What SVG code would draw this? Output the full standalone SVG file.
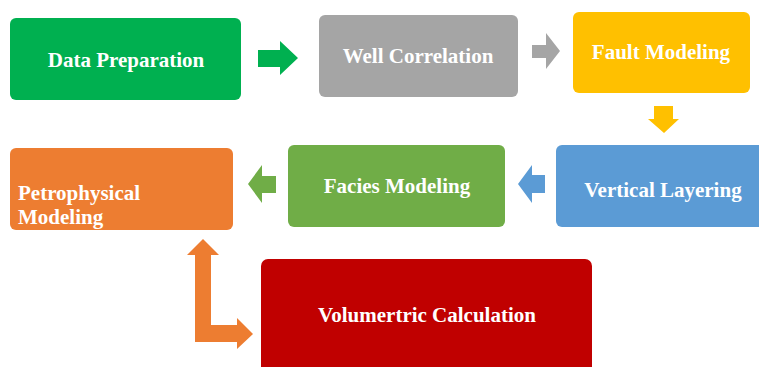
<svg xmlns="http://www.w3.org/2000/svg" width="759" height="367" viewBox="0 0 759 367">
<style>
.t{font-family:'Liberation Serif','Times New Roman',Times,serif;font-weight:700;font-size:21px;fill:#fff}
.c{text-anchor:middle}
</style>
<rect width="759" height="367" fill="#fff"/>
<g id="data-preparation"><rect x="10" y="18" width="231" height="82" rx="6" fill="#00B050"/><text class="t c" x="126" y="67">Data Preparation</text></g>
<g id="well-correlation"><rect x="319" y="15" width="199" height="82" rx="6" fill="#A5A5A5"/><text class="t c" x="418" y="63">Well Correlation</text></g>
<g id="fault-modeling"><rect x="573" y="12" width="177" height="81" rx="6" fill="#FFC000"/><text class="t c" x="661" y="59">Fault Modeling</text></g>
<g id="vertical-layering"><rect x="556" y="145" width="210" height="82" rx="6" fill="#5B9BD5"/><text class="t c" x="663" y="197">Vertical Layering</text></g>
<g id="facies-modeling"><rect x="288" y="145" width="217" height="82" rx="6" fill="#70AD47"/><text class="t c" x="397" y="193">Facies Modeling</text></g>
<g id="petrophysical-modeling"><rect x="10" y="148" width="223" height="82" rx="6" fill="#ED7D31"/><text class="t" x="18" y="200">Petrophysical</text><text class="t" x="18" y="224">Modeling</text></g>
<g id="volumetric-calculation"><rect x="261" y="259" width="331" height="120" rx="7" fill="#C00000"/><text class="t c" x="427" y="322">Volumertric Calculation</text></g>
<g id="connectors">
<polygon points="258,50 280,50 280,41 298,58 280,75 280,67 258,67" fill="#00B050"/>
<polygon points="532,45 546,45 546,33 560,51 546,69 546,58 532,58" fill="#A5A5A5"/>
<polygon points="654,106 673,106 673,119 679,119 664,133 648,119 654,119" fill="#FFC000"/>
<polygon points="545,175 532,175 532,165 518,184 532,203 532,193 545,193" fill="#5B9BD5"/>
<polygon points="276,176 262,176 262,165 248,184 262,203 262,193 276,193" fill="#70AD47"/>
<polygon points="203,239 219,255 211,255 211,325 237,325 237,318 253,334 237,349 237,342 195,342 195,255 187,255" fill="#ED7D31"/>
</g>
</svg>
